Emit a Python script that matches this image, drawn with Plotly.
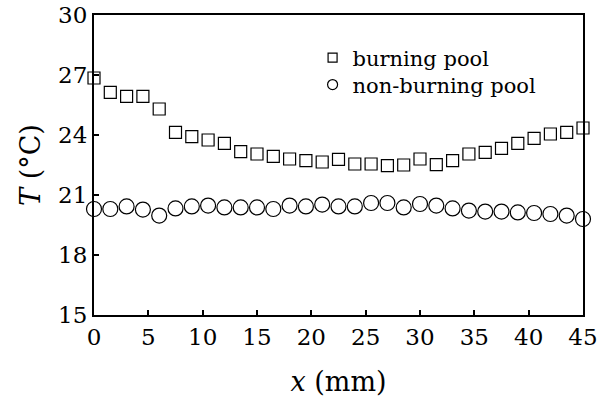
import plotly.graph_objects as go

x_mm = [0, 1.5, 3, 4.5, 6, 7.5, 9, 10.5, 12, 13.5, 15, 16.5, 18, 19.5, 21,
        22.5, 24, 25.5, 27, 28.5, 30, 31.5, 33, 34.5, 36, 37.5, 39, 40.5, 42, 43.5, 45]
burning = [26.85, 26.13, 25.93, 25.93, 25.3, 24.13, 23.92, 23.75, 23.58, 23.17, 23.05,
           22.93, 22.8, 22.72, 22.65, 22.78, 22.55, 22.55, 22.47, 22.5, 22.8, 22.52,
           22.72, 23.05, 23.13, 23.33, 23.58, 23.83, 24.05, 24.13, 24.35]
non_burning = [20.3, 20.3, 20.43, 20.27, 19.97, 20.33, 20.43, 20.47, 20.38, 20.38, 20.38,
               20.3, 20.47, 20.43, 20.52, 20.43, 20.43, 20.6, 20.6, 20.38, 20.55, 20.47,
               20.33, 20.22, 20.17, 20.17, 20.13, 20.1, 20.05, 19.97, 19.8]
series_names = ["burning pool", "non-burning pool"]
x_ticks = [0, 5, 10, 15, 20, 25, 30, 35, 40, 45]
y_ticks = [15, 18, 21, 24, 27, 30]

FONT = "DejaVu Serif"

fig = go.Figure()
fig.add_trace(go.Scatter(x=x_mm, y=burning, mode="markers", showlegend=False,
                         cliponaxis=False,
                         marker=dict(symbol="square-open", size=12, color="black",
                                     line=dict(width=1.2, color="black"))))
fig.add_trace(go.Scatter(x=x_mm, y=non_burning, mode="markers", showlegend=False,
                         cliponaxis=False,
                         marker=dict(symbol="circle-open", size=15, color="black",
                                     line=dict(width=1.2, color="black"))))
fig.add_trace(go.Scatter(x=[None], y=[None], mode="markers", name=series_names[0],
                         legend="legend",
                         marker=dict(symbol="square-open", size=9, color="black",
                                     line=dict(width=1.2, color="black"))))
fig.add_trace(go.Scatter(x=[None], y=[None], mode="markers", name=series_names[1],
                         legend="legend2",
                         marker=dict(symbol="circle-open", size=10, color="black",
                                     line=dict(width=1.2, color="black"))))

axis_common = dict(showline=True, mirror=True, linecolor="black", linewidth=2,
                   ticks="inside", ticklen=5, tickwidth=1.5, tickcolor="black",
                   showgrid=False, zeroline=False, automargin=False,
                   ticklabeloverflow="allow",
                   tickfont=dict(family=FONT, size=23, color="black"))

fig.update_xaxes(range=[0, 45], tickvals=x_ticks, ticktext=[str(v) for v in x_ticks],
                 title=dict(text="<i>x</i> (mm)", font=dict(family=FONT, size=27, color="black"),
                            standoff=24),
                 **axis_common)
fig.update_yaxes(range=[15, 30], tickvals=y_ticks, ticktext=[str(v) for v in y_ticks],
                 title=dict(text="<i>T</i> (°C)", font=dict(family=FONT, size=27, color="black"),
                            standoff=10),
                 **axis_common)

leg_common = dict(xanchor="left", yanchor="middle", bgcolor="rgba(0,0,0,0)",
                  font=dict(family=FONT, size=21, color="black"))
fig.update_layout(
    width=597, height=397,
    margin=dict(l=94, r=14, t=15, b=82),
    plot_bgcolor="white", paper_bgcolor="white",
    legend=dict(x=0.447, y=0.857, **leg_common),
    legend2=dict(x=0.447, y=0.767, **leg_common),
)

fig.write_html("out.html")
